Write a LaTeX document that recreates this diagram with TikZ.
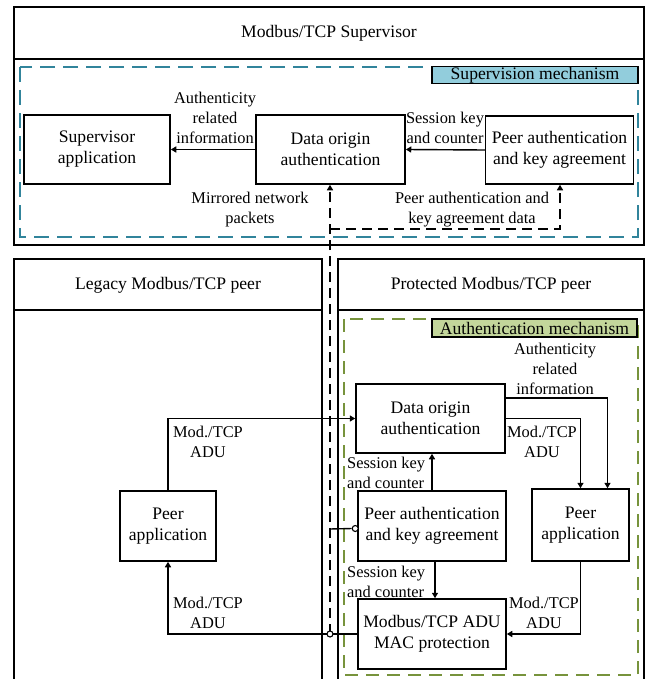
\documentclass[tikz,border=0pt]{standalone}
\usepackage{fontspec}
\setmainfont{Liberation Serif}
\usetikzlibrary{arrows.meta,calc}
\definecolor{supline}{HTML}{31849B}
\definecolor{supfill}{HTML}{92CDDC}
\definecolor{authline}{HTML}{77933C}
\definecolor{authfill}{HTML}{C3D69B}
\newcommand{\boxfont}{\fontsize{17.6}{21}\selectfont}
\newcommand{\lblfont}{\fontsize{16.4}{20}\selectfont}
\begin{document}
\begin{tikzpicture}[x=1pt,y=-1pt,
  blk/.style={draw,line width=1.5pt,align=center,font=\boxfont,inner sep=0pt},
  lbl/.style={align=center,font=\lblfont,inner sep=0pt},
  ttl/.style={font=\boxfont,inner sep=0pt},
  frame/.style={draw,line width=1.6pt},
  flow/.style={line width=1.4pt,-{Triangle[length=5.5pt,width=6pt]}},
  link/.style={line width=1.4pt},
  tapline/.style={line width=1.5pt,dash pattern=on 10pt off 6pt},
  tapflow/.style={tapline,-{Triangle[length=5.5pt,width=6pt]}},
  jnc/.style={circle,draw,fill=white,line width=1.1pt,inner sep=0pt,minimum size=6pt},
  mech/.style={draw,line width=1.5pt,font=\boxfont,inner sep=0pt},
]
\useasboundingbox (0,0) rectangle (650,679);
\clip (0,0) rectangle (650,679);

% ---------- Supervisor ----------
\draw[frame] (14,7) rectangle (644,245);
\draw[frame] (14,59) -- (644,59);
\node[ttl] (suptitle) at (329,33) {Modbus/TCP Supervisor};
\draw[supline,line width=2.2pt,dash pattern=on 15pt off 8pt] (20,67) rectangle (638,237);
\node[mech,fill=supfill,minimum width=206pt,minimum height=17pt] (supmech) at (535,75) {Supervision mechanism};

\node[blk,minimum width=146pt,minimum height=69pt] (supapp) at (97,149.5) {Supervisor\\application};
\node[blk,minimum width=149pt,minimum height=69pt] (doa1) at (330.5,149.5) {Data origin\\authentication};
\node[blk,minimum width=148pt,minimum height=68pt] (paka1) at (559.5,150) {Peer authentication\\and key agreement};

\draw[flow] (doa1.west) -- (supapp.east);
\draw[flow] (paka1.west) -- (doa1.east);
\node[lbl] (l1) at (215,118) {Authenticity\\related\\information};
\node[lbl] (l2) at (445,128) {Session key\\and counter};
\node[lbl] (l3) at (250,210) {Mirrored network\\packets};
\node[lbl] (l4) at (472,210) {Peer authentication and\\key agreement data};

% ---------- Peers ----------
\draw[frame] (14,690) -- (14,259) -- (322,259) -- (322,690);
\draw[frame] (14,310) -- (322,310);
\node[ttl] (legtitle) at (168,285) {Legacy Modbus/TCP peer};
\draw[frame] (338,690) -- (338,259) -- (644,259) -- (644,690);
\draw[frame] (338,310) -- (644,310);
\node[ttl] (prottitle) at (491,285) {Protected Modbus/TCP peer};

\draw[authline,line width=2.2pt,dash pattern=on 13pt off 8pt] (344,319) rectangle (638,675);
\node[mech,fill=authfill,minimum width=205pt,minimum height=18pt] (authmech) at (534.5,328) {Authentication mechanism};

\node[blk,minimum width=96pt,minimum height=70pt] (peer1) at (168,526) {Peer\\application};
\node[blk,minimum width=149pt,minimum height=69pt] (doa2) at (430.5,418.5) {Data origin\\authentication};
\node[blk,minimum width=148pt,minimum height=70pt] (paka2) at (432,526) {Peer authentication\\and key agreement};
\node[blk,minimum width=97pt,minimum height=72pt] (peer2) at (580.5,525) {Peer\\application};
\node[blk,minimum width=148pt,minimum height=70pt] (mac) at (432,634) {Modbus/TCP ADU\\MAC protection};

% data flows
\draw[flow] (peer1.north) |- (doa2.west);
\draw[flow] (doa2.east) -| (peer2.north);
\draw[flow] ([yshift=20.5pt]doa2.east) -| ([xshift=27pt]peer2.north);
\draw[flow] (paka2.north) -- (paka2.north |- doa2.south);
\draw[flow] ([xshift=3pt]paka2.south) -- ([xshift=3pt]mac.north);
\draw[flow] (peer2.south) |- (mac.east);
\draw[flow] (mac.west) -| (peer1.south);

\node[lbl] (l5) at (208,442) {Mod./TCP\\ADU};
\node[lbl] (l6) at (555,369) {Authenticity\\related\\information};
\node[lbl] (l7) at (542,442) {Mod./TCP\\ADU};
\node[lbl,anchor=west,align=left] (l8) at (347,473) {Session key\\and counter};
\node[lbl,anchor=west,align=left] (l9) at (347,582) {Session key\\and counter};
\node[lbl] (l10) at (544,613) {Mod./TCP\\ADU};
\node[lbl] (l11) at (208,613) {Mod./TCP\\ADU};

% mirrored traffic tap
\coordinate (tap) at (330,634);
\coordinate (split) at (330,229);
\coordinate (probe) at (330,529);
\draw[tapflow] (tap) -- (tap |- doa1.south);
\draw[tapflow] (split) -| ([xshift=0.5pt]paka1.south);
\node[jnc] (pj) at ([xshift=-2pt,yshift=-2.5pt]paka2.west) {};
\draw[link] (probe) -- (pj.west);
\node[jnc] (tj) at (tap) {};
\end{tikzpicture}
\end{document}
